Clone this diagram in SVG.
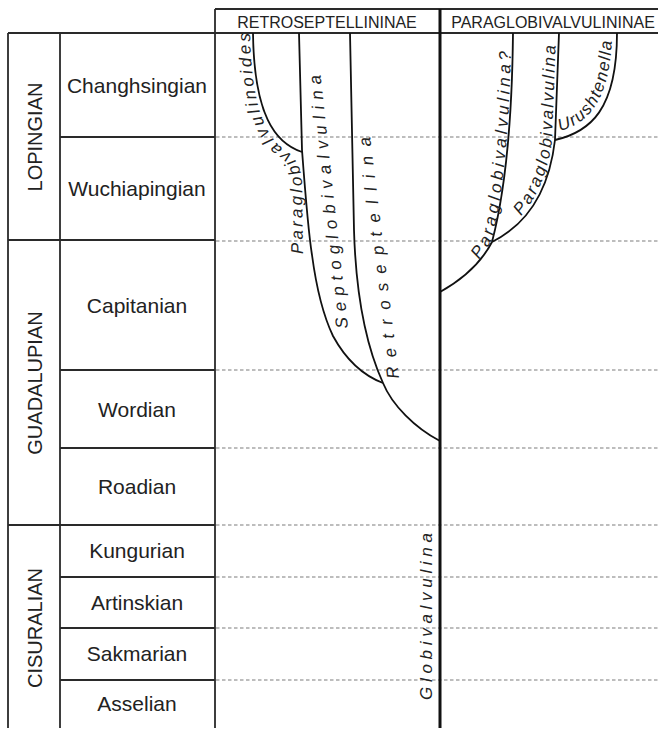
<svg xmlns="http://www.w3.org/2000/svg" width="660" height="730" viewBox="0 0 660 730">
<style>
.grid{stroke:#2a2a2a;stroke-width:1.8;fill:none}
.thick{stroke:#111;stroke-width:3;fill:none}
.dash{stroke:#a8a8a8;stroke-width:1.3;stroke-dasharray:3.5 2.5;fill:none}
.lin{stroke:#111;stroke-width:1.8;fill:none}
.stage{font-family:"Liberation Sans",Arial,sans-serif;font-size:21px;fill:#222;text-anchor:middle}
.series{font-family:"Liberation Sans",Arial,sans-serif;font-size:20px;fill:#222;text-anchor:middle}
.head{font-family:"Liberation Sans",Arial,sans-serif;font-size:16px;fill:#222;text-anchor:middle}
.taxon{font-family:"Liberation Sans",Arial,sans-serif;font-style:italic;font-size:17px;fill:#222}
</style>
<defs>
<path id="pNoides" d="M303,254 L302,182 Q301,163 288,152 C268,140 251,112 250,30"/>
<path id="pParaQ" d="M479,260 C486,250 490,245 493,236 C502,200 510,130 511,40"/>
<path id="pPara" d="M521,216 C535,200 548,175 552,140 L556,36"/>
<path id="pUrush" d="M560,131 C588,124 611,100 612,33"/>
</defs>
<rect width="660" height="730" fill="#fff"/>
<g id="table">
<path class="dash" d="M216,137H658M216,241H658M216,370H658M216,448H658M216,525H658M216,577H658M216,628H658M216,680H658"/>
<path class="grid" d="M215,9H658M8,33H658M8,33V728M60,33V728M215,9V728"/>
<path class="grid" d="M60,137H215M8,240H215M60,370H215M60,448H215M8,525H215M60,577H215M60,628H215M60,680H215"/>
<path class="thick" d="M440,9V728"/>
</g>
<g id="headers">
<text class="head" x="327" y="28">RETROSEPTELLININAE</text>
<text class="head" x="553" y="28">PARAGLOBIVALVULININAE</text>
</g>
<g id="series">
<text class="series" transform="translate(42,137) rotate(-90)">LOPINGIAN</text>
<text class="series" transform="translate(42,383) rotate(-90)">GUADALUPIAN</text>
<text class="series" transform="translate(42,628) rotate(-90)">CISURALIAN</text>
</g>
<g id="stages">
<text class="stage" x="137" y="93">Changhsingian</text>
<text class="stage" x="137" y="196">Wuchiapingian</text>
<text class="stage" x="137" y="313">Capitanian</text>
<text class="stage" x="137" y="417">Wordian</text>
<text class="stage" x="137" y="494">Roadian</text>
<text class="stage" x="137" y="558">Kungurian</text>
<text class="stage" x="137" y="610">Artinskian</text>
<text class="stage" x="137" y="661">Sakmarian</text>
<text class="stage" x="137" y="711">Asselian</text>
</g>
<g id="connectors">
<path class="lin" d="M253,33 C254,115 275,143 302,152"/>
<path class="lin" d="M299,33 L302,150 C305,190 308,230 312,255 C316,285 323,315 333,336 C345,358 362,375 383,383"/>
<path class="lin" d="M350,33 L354,230 C356,300 368,350 383,383 C392,405 415,428 440,441"/>
<path class="lin" d="M440,292 C458,282 480,265 492,242"/>
<path class="lin" d="M492,242 C503,200 512,130 513,33"/>
<path class="lin" d="M492,242 C520,228 548,200 555,140 L559,33"/>
<path class="lin" d="M555,140 C590,132 617,110 617,33"/>
</g>
<g id="taxon-paraglobivalvulinoides"><text class="taxon" font-size="16"><textPath href="#pNoides" textLength="236" lengthAdjust="spacing">Paraglobivalvulinoides</textPath></text></g>
<g id="taxon-septoglobivalvulina"><text class="taxon" transform="translate(348,328) rotate(-96.2)" textLength="255" lengthAdjust="spacing">Septoglobivalvulina</text></g>
<g id="taxon-retroseptellina"><text class="taxon" font-size="18" transform="translate(399,378) rotate(-96.8)" textLength="243" lengthAdjust="spacing">Retroseptellina</text></g>
<g id="taxon-globivalvulina"><text class="taxon" transform="translate(432,700) rotate(-90)" textLength="167" lengthAdjust="spacing">Globivalvulina</text></g>
<g id="taxon-paraglobivalvulina-q"><text class="taxon"><textPath href="#pParaQ" textLength="214" lengthAdjust="spacing">Paraglobivalvulina?</textPath></text></g>
<g id="taxon-paraglobivalvulina"><text class="taxon" font-size="16"><textPath href="#pPara" textLength="178" lengthAdjust="spacing">Paraglobivalvulina</textPath></text></g>
<g id="taxon-urushtenella"><text class="taxon" font-size="16"><textPath href="#pUrush" textLength="112" lengthAdjust="spacing">Urushtenella</textPath></text></g>
</svg>
